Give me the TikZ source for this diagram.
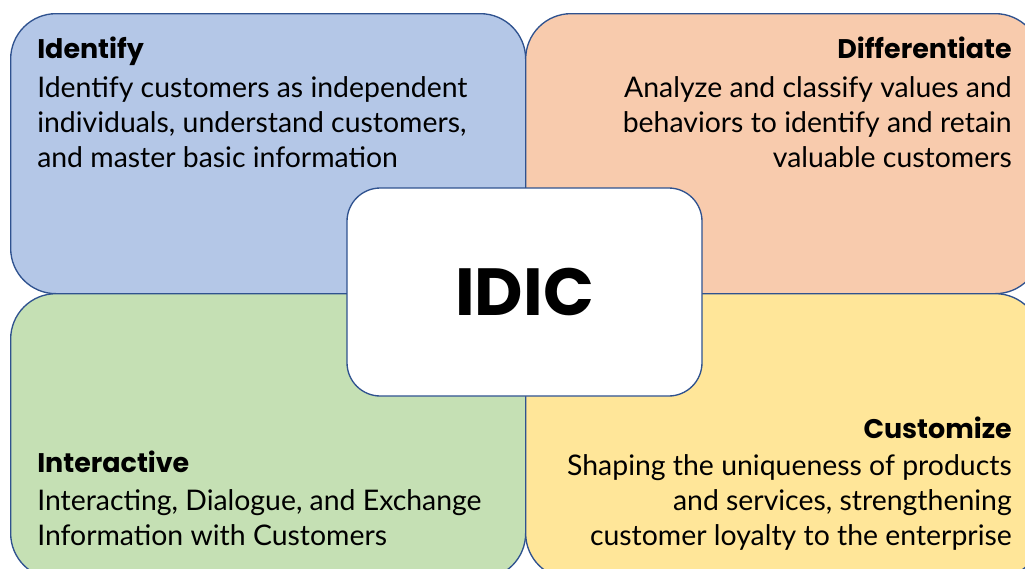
\documentclass[tikz,border=0pt]{standalone}
\usepackage{fontspec}
\setmainfont{Lato}
\newfontfamily\headfont{Poppins}
\definecolor{boxline}{HTML}{2F528F}
\definecolor{identblue}{HTML}{B4C7E7}
\definecolor{diffpeach}{HTML}{F8CBAD}
\definecolor{interact}{HTML}{C5E0B4}
\definecolor{custyellow}{HTML}{FFE699}
\begin{document}
\begin{tikzpicture}[x=0.75pt,y=-0.75pt,
    quad/.style={draw=boxline,line width=1pt,rounded corners=34pt,anchor=north west,
        inner sep=0pt,minimum width=386.25pt,minimum height=210pt},
    heading/.style={font=\headfont\bfseries\fontsize{20.2}{24}\selectfont,inner sep=0pt},
    body/.style={font=\fontsize{21.3}{26.25}\selectfont,inner sep=0pt}]
    \useasboundingbox (0,0) rectangle (1025,568);
    \clip (0,0) rectangle (1025,568);
    \node[quad,fill=identblue] (ident) at (10,13) {};
    \node[quad,fill=diffpeach] (diff) at (525,13) {};
    \node[quad,fill=interact,minimum height=213.75pt] (inter) at (10,293) {};
    \node[quad,fill=custyellow,minimum height=213.75pt] (cust) at (525,293) {};
    \node[draw=boxline,line width=1pt,fill=white,rounded corners=25pt,
        minimum width=266.25pt,minimum height=156pt,
        font=\headfont\bfseries\fontsize{50}{60}\selectfont] (idic) at (524.5,292) {IDIC};
    \node[heading,anchor=base west] (identhead) at (37,58) {Identify};
    \node[body,anchor=north west,align=left] (identtext) at (37,76)
        {Identify customers as independent\\individuals, understand customers,\\and master basic information};
    \node[heading,anchor=base east] (diffhead) at (1012,58) {Differentiate};
    \node[body,anchor=north east,align=right] (difftext) at (1012,76)
        {Analyze and classify values and\\behaviors to identify and retain\\valuable customers};
    \node[heading,anchor=base west] (interhead) at (37,472) {Interactive};
    \node[body,anchor=north west,align=left] (intertext) at (37,489)
        {Interacting, Dialogue, and Exchange\\Information with Customers};
    \node[heading,anchor=base east] (custhead) at (1012,438) {Customize};
    \node[body,anchor=north east,align=right] (custtext) at (1012,454)
        {Shaping the uniqueness of products\\and services, strengthening\\customer loyalty to the enterprise};
\end{tikzpicture}
\end{document}
